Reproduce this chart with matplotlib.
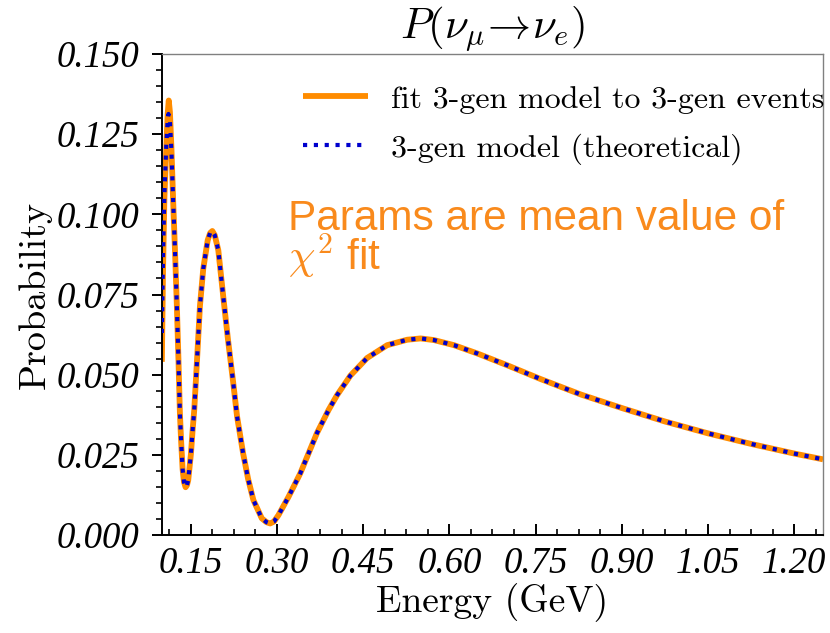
import numpy as np
import matplotlib
matplotlib.use("Agg")
import matplotlib.pyplot as plt
from matplotlib.ticker import MultipleLocator, FormatStrFormatter

plt.rcParams['mathtext.fontset'] = 'cm'

#%% data
# fit 3-gen model to 3-gen events (orange)
E_fit = [0.100, 0.102, 0.1044, 0.106, 0.1078, 0.110, 0.112, 0.114, 0.1166, 0.1195,
         0.123, 0.126, 0.129, 0.1314, 0.1336, 0.1361, 0.1385, 0.1413, 0.1436, 0.1459,
         0.1506, 0.1535, 0.1563, 0.1610, 0.1663, 0.1720, 0.1797, 0.1840, 0.1878, 0.1920,
         0.1982, 0.2070, 0.2150, 0.2238, 0.2308, 0.2413, 0.2500, 0.2592, 0.2738, 0.2820,
         0.2884, 0.2950, 0.3028, 0.3203, 0.3407, 0.3698, 0.3900, 0.4047, 0.4279, 0.4570,
         0.4919, 0.5268, 0.5500, 0.5731, 0.6081, 0.6489, 0.7012, 0.7593, 0.8290, 0.9000,
         0.9750, 1.0500, 1.1250, 1.2000, 1.2500]
P_fit = [0.0540, 0.0820, 0.1050, 0.1130, 0.1210, 0.1310, 0.1355, 0.1320, 0.1210, 0.1050,
         0.0880, 0.0720, 0.0540, 0.0380, 0.0290, 0.0205, 0.0165, 0.0149, 0.0155, 0.0171,
         0.0254, 0.0327, 0.0389, 0.0540, 0.0715, 0.0830, 0.0919, 0.0942, 0.0948, 0.0935,
         0.0888, 0.0740, 0.0610, 0.0480, 0.0370, 0.0255, 0.0175, 0.0109, 0.0052, 0.0040,
         0.0036, 0.0042, 0.0062, 0.0119, 0.0192, 0.0318, 0.0390, 0.0436, 0.0497, 0.0552,
         0.0592, 0.0609, 0.0613, 0.0608, 0.0592, 0.0566, 0.0529, 0.0486, 0.0438, 0.0396,
         0.0354, 0.0317, 0.0284, 0.0254, 0.0236]

# 3-gen model (theoretical), blue dotted -- differs only on the first peak
E_th = [0.100, 0.102, 0.1044, 0.1078, 0.110, 0.1115, 0.114, 0.1166] + E_fit[9:]
P_th = [0.0630, 0.0870, 0.1060, 0.1220, 0.1290, 0.1313, 0.1290, 0.1200] + P_fit[9:]

#%% figure
fig = plt.figure(figsize=(8.3, 6.33), dpi=100)
ax = fig.add_axes([0.195, 0.1548, 0.7966, 0.7599])

ax.plot(E_fit, P_fit, color='darkorange', lw=4.2, solid_capstyle='butt',
        label='fit 3-gen model to 3-gen events', zorder=2)
ax.plot(E_th, P_th, color='mediumblue', lw=3.0, linestyle=(0, (1, 1.6)),
        label='3-gen model (theoretical)', zorder=3)

ax.set_xlim(0.10, 1.25)
ax.set_ylim(0.0, 0.15)

ax.xaxis.set_major_locator(MultipleLocator(0.15))
ax.xaxis.set_minor_locator(MultipleLocator(0.0375))
ax.yaxis.set_major_locator(MultipleLocator(0.025))
ax.yaxis.set_minor_locator(MultipleLocator(0.005))
ax.xaxis.set_major_formatter(FormatStrFormatter('%.2f'))
ax.yaxis.set_major_formatter(FormatStrFormatter('%.3f'))

ax.tick_params(axis='x', which='major', direction='in', length=8, width=1.4, pad=8)
ax.tick_params(axis='x', which='minor', direction='in', length=4, width=1.2)
ax.tick_params(axis='y', which='major', direction='out', length=7, width=1.4, pad=9)
ax.tick_params(axis='y', which='minor', direction='out', length=4, width=1.2)

for lab in ax.get_xticklabels() + ax.get_yticklabels():
    lab.set_fontfamily('Liberation Serif')
    lab.set_fontstyle('italic')
    lab.set_fontsize(26.5)

for s in ['top', 'right']:
    ax.spines[s].set_color('#808080')
    ax.spines[s].set_linewidth(1.0)
for s in ['left', 'bottom']:
    ax.spines[s].set_linewidth(1.4)

ax.set_xlabel('Energy (GeV)', fontfamily='cmr10', fontsize=27, labelpad=2)
ax.set_ylabel('Probability', fontfamily='cmr10', fontsize=27.5, labelpad=4)
ax.set_title(r'$P(\nu_\mu\!\rightarrow\!\nu_e)$', fontsize=31, pad=5)

leg = ax.legend(loc='upper left', bbox_to_anchor=(0.17, 0.995), frameon=False,
                prop={'family': 'cmr10', 'size': 23}, handlelength=2.05,
                handletextpad=0.7, labelspacing=0.62)

# annotation added on the slide
fig.text(0.347, 0.5735, 'Params are mean value of\n' + r'$\chi^2$ fit', color='#f98a1c',
         fontfamily='Liberation Sans', fontsize=30.5, va='baseline',
         linespacing=0.82)

fig.savefig('out.png', dpi=100)
